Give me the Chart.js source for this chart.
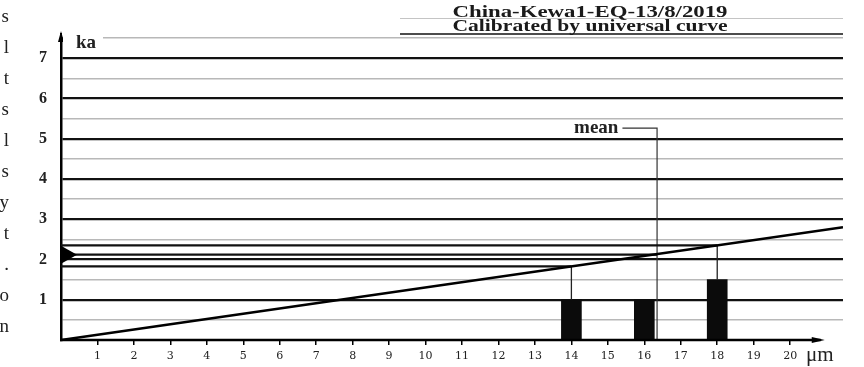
<!DOCTYPE html>
<html>
<head>
<meta charset="utf-8">
<script src="https://cdn.jsdelivr.net/npm/chart.js@4.4.1/dist/chart.umd.min.js"></script>
<style>
  html, body { margin: 0; padding: 0; background: #fff; }
  #wrap { position: relative; width: 864px; height: 367px; }
</style>
</head>
<body>
<div id="wrap"><canvas id="calChart" width="864" height="367"></canvas></div>
<script>
// grain sizes (µm) and counts (ka axis is used for the bars too)
const sizes = [14, 16, 18];
const counts = [1, 1, 1.5];

// universal calibration curve (µm -> ka)
const curveX = [0, 21.45];
const curveY = [0, 2.8];

// ages for the 14 and 18 µm classes
const readSizes = [14, 18];
const readAges = [1.83, 2.35];

// mean grain size and its age, label anchor height
const meanSize = 16.35;
const meanAge = 2.12;
const meanLabelY = 5.26;
const meanLabelX = 15.4;

const xTicks = [1, 2, 3, 4, 5, 6, 7, 8, 9, 10, 11, 12, 13, 14, 15, 16, 17, 18, 19, 20];
const yLabels = [1, 2, 3, 4, 5, 6, 7];

const titleLines = ["China-Kewa1-EQ-13/8/2019", "Calibrated by universal curve"];
const sideLetters = ["s", "l", "t", "s", "l", "s", "y", "t", ".", "o", "n"];

const serif = "'Liberation Serif', 'Times New Roman', serif";

const datasets = [];

datasets.push({
    type: "bar",
    data: sizes.map((s, i) => ({ x: s, y: counts[i] })),
    backgroundColor: "#0b0b0b",
    borderWidth: 0,
    barThickness: 20,
    order: 5
});

datasets.push({
    type: "line",
    data: curveX.map((v, i) => ({ x: v, y: curveY[i] })),
    borderColor: "#000",
    borderWidth: 2.6,
    pointRadius: 0,
    order: 1
});

// horizontal reading lines from the curve back to the age axis
readSizes.forEach((s, i) => {
    datasets.push({
        type: "line",
        data: [{ x: 0, y: readAges[i] }, { x: s, y: readAges[i] }],
        borderColor: "#111",
        borderWidth: 2.2,
        pointRadius: 0,
        order: 2
    });
    datasets.push({
        type: "line",
        data: [{ x: s, y: counts[sizes.indexOf(s)] }, { x: s, y: readAges[i] }],
        borderColor: "#222",
        borderWidth: 1.3,
        pointRadius: 0,
        order: 2
    });
});

// mean
datasets.push({
    type: "line",
    data: [{ x: 0, y: meanAge }, { x: meanSize, y: meanAge }],
    borderColor: "#111",
    borderWidth: 2.2,
    pointRadius: 0,
    order: 2
});
datasets.push({
    type: "line",
    data: [{ x: meanSize, y: 0 }, { x: meanSize, y: meanLabelY }, { x: meanLabelX, y: meanLabelY }],
    borderColor: "#333",
    borderWidth: 1.2,
    pointRadius: 0,
    order: 2
});

const extras = {
    id: "extras",
    afterDraw(chart) {
        const { ctx, chartArea: a, scales: { x, y } } = chart;
        ctx.save();

        // x axis with arrow
        const y0 = y.getPixelForValue(0);
        const xEnd = x.getPixelForValue(20.95);
        ctx.strokeStyle = "#000";
        ctx.fillStyle = "#000";
        ctx.lineWidth = 2.5;
        ctx.beginPath();
        ctx.moveTo(a.left - 1, y0);
        ctx.lineTo(xEnd - 4, y0);
        ctx.stroke();
        ctx.beginPath();
        ctx.moveTo(xEnd, y0);
        ctx.lineTo(xEnd - 13, y0 - 3);
        ctx.lineTo(xEnd - 13, y0 + 3);
        ctx.closePath();
        ctx.fill();

        // y axis extension with arrow
        ctx.lineWidth = 2;
        ctx.beginPath();
        ctx.moveTo(a.left, a.top);
        ctx.lineTo(a.left, 33);
        ctx.stroke();
        ctx.beginPath();
        ctx.moveTo(a.left, 31);
        ctx.lineTo(a.left - 3, 42);
        ctx.lineTo(a.left + 3, 42);
        ctx.closePath();
        ctx.fill();

        // triangle marker at mean age
        const ym = y.getPixelForValue(meanAge);
        ctx.beginPath();
        ctx.moveTo(a.left, ym - 9);
        ctx.lineTo(a.left + 16, ym);
        ctx.lineTo(a.left, ym + 9);
        ctx.closePath();
        ctx.fill();

        // "ka" unit label
        ctx.fillStyle = "#fff";
        ctx.fillRect(a.left + 2, 30, 40, 14);
        ctx.fillStyle = "#222";
        ctx.font = "bold 19px " + serif;
        ctx.textAlign = "left";
        ctx.textBaseline = "alphabetic";
        ctx.fillText("ka", a.left + 15, 48);

        // "μm" unit label
        ctx.font = "21px " + serif;
        ctx.fillText("μm", 806, 361);

        // mean label
        ctx.font = "bold 19px " + serif;
        ctx.textAlign = "right";
        ctx.fillText("mean", x.getPixelForValue(meanLabelX) - 4, y.getPixelForValue(meanLabelY) + 5);

        // title
        ctx.strokeStyle = "#c4c4c4";
        ctx.lineWidth = 1;
        ctx.beginPath();
        ctx.moveTo(400, 18.5);
        ctx.lineTo(a.right, 18.5);
        ctx.stroke();
        ctx.strokeStyle = "#111";
        ctx.lineWidth = 1.6;
        ctx.beginPath();
        ctx.moveTo(400, 34);
        ctx.lineTo(a.right, 34);
        ctx.stroke();

        ctx.fillStyle = "#1a1a1a";
        ctx.textAlign = "center";
        [[titleLines[0], 17], [titleLines[1], 31]].forEach(([t, by]) => {
            ctx.save();
            ctx.font = "bold 17px " + serif;
            const w = ctx.measureText(t).width;
            ctx.translate(590, by);
            ctx.scale(275 / w, 1);
            ctx.fillText(t, 0, 0);
            ctx.restore();
        });

        // cut-off text from the page margin
        ctx.font = "19px " + serif;
        ctx.textAlign = "right";
        ctx.fillStyle = "#222";
        sideLetters.forEach((c, i) => ctx.fillText(c, 9, 22 + 31 * i));

        ctx.restore();
    }
};

new Chart(document.getElementById("calChart"), {
    type: "bar",
    data: { datasets: datasets },
    options: {
        responsive: false,
        animation: false,
        layout: { padding: { top: 38, right: 21, left: 0, bottom: 0 } },
        plugins: {
            legend: { display: false },
            tooltip: { enabled: false }
        },
        scales: {
            x: {
                type: "linear",
                min: 0,
                max: 21.45,
                offset: false,
                afterBuildTicks: s => { s.ticks = xTicks.map(v => ({ value: v })); },
                afterFit: s => { s.height = 27; },
                ticks: {
                    autoSkip: false,
                    maxRotation: 0,
                    padding: 5,
                    color: "#222",
                    font: { family: "'DejaVu Serif', serif", size: 11 }
                },
                grid: { offset: false, drawOnChartArea: false, drawTicks: true, tickLength: 5, color: "#000", lineWidth: 1.5 },
                border: { display: false }
            },
            y: {
                min: 0,
                max: 7.5,
                afterFit: s => { s.width = 61; },
                ticks: {
                    stepSize: 0.5,
                    autoSkip: false,
                    padding: 14,
                    color: "#222",
                    font: { family: serif, weight: "bold", size: 16 },
                    callback: v => yLabels.includes(v) ? v : ""
                },
                grid: {
                    drawTicks: false,
                    color: c => c.tick.value === 0 ? "rgba(0,0,0,0)" : (c.tick.value % 1 === 0 ? "#111" : "#b8b8b8"),
                    lineWidth: c => c.tick.value % 1 === 0 ? 2.2 : 1.4
                },
                border: { color: "#000", width: 2.5 }
            }
        }
    },
    plugins: [extras]
});
</script>
</body>
</html>
